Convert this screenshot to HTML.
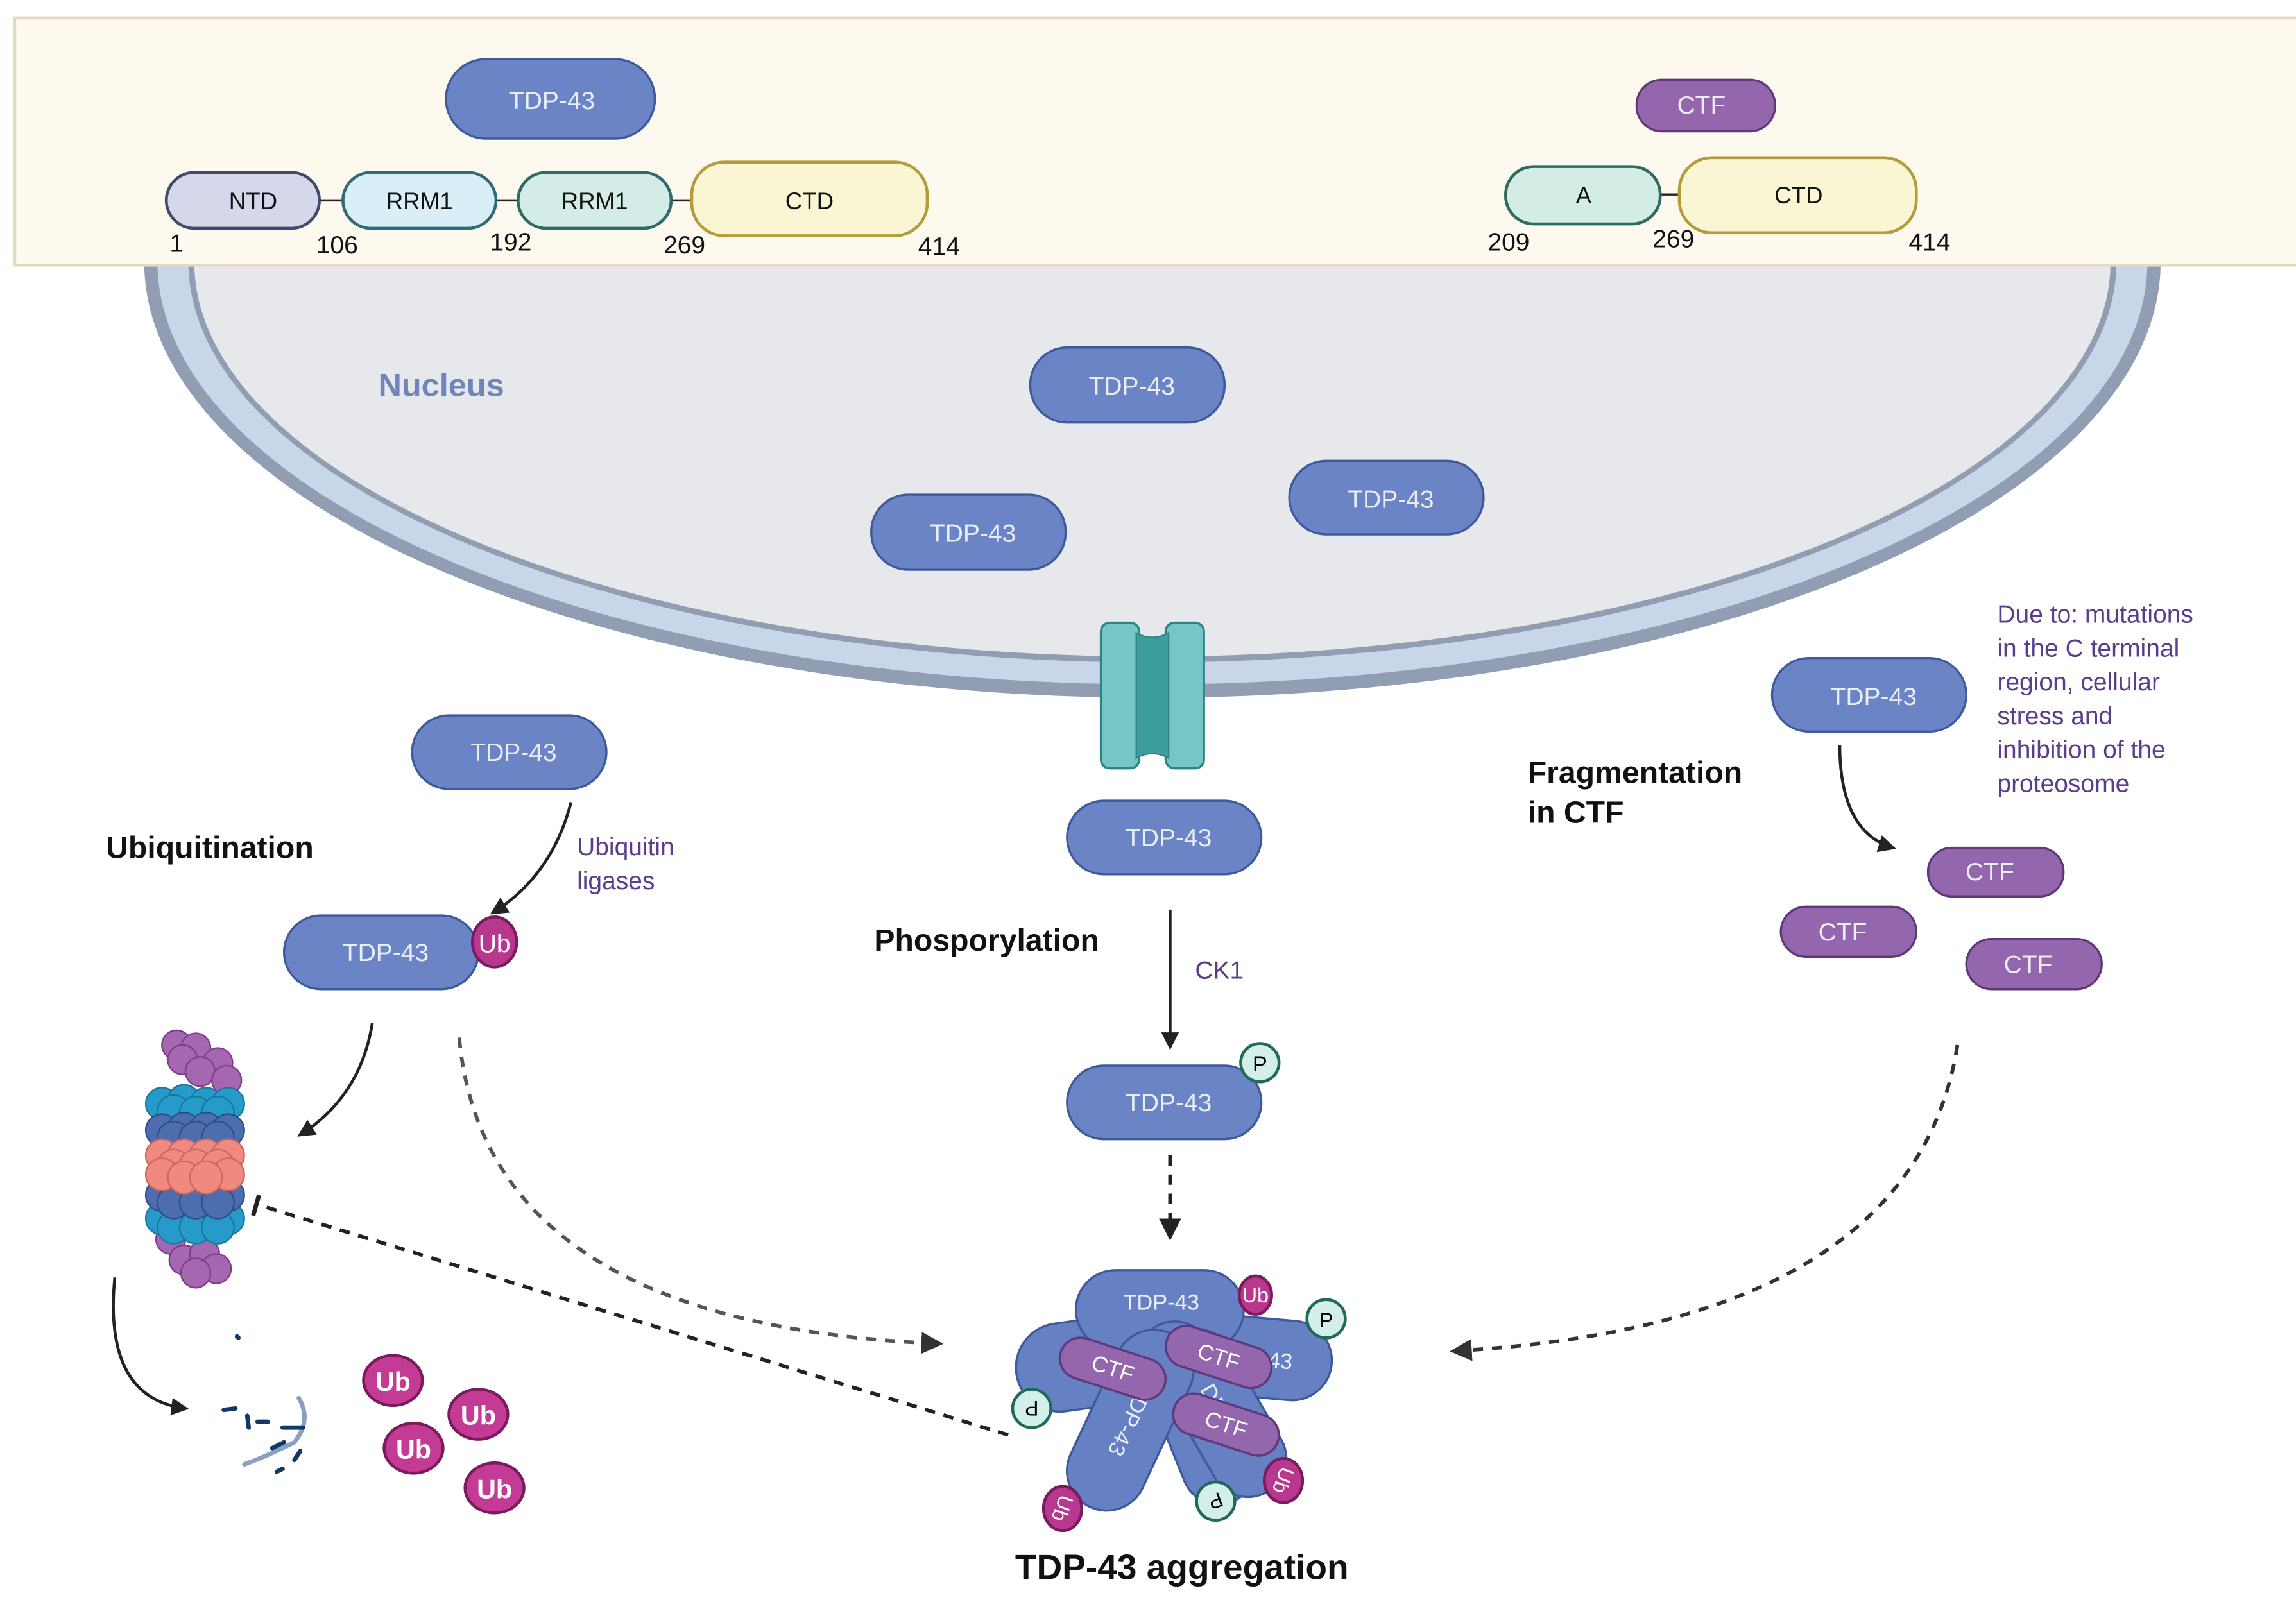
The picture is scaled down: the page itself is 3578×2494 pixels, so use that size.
<!DOCTYPE html>
<html><head><meta charset="utf-8"><style>html,body{margin:0;padding:0;background:#fff}svg{display:block}</style></head><body>
<svg width="3578" height="2494" viewBox="0 0 1560 1087" xmlns="http://www.w3.org/2000/svg" font-family="Liberation Sans, sans-serif">
<defs>
<marker id="ah" viewBox="0 0 10 10" refX="8" refY="5" markerWidth="6" markerHeight="6" orient="auto"><path d="M0,0L10,5L0,10z" fill="#222"/></marker>
<marker id="ahg" viewBox="0 0 10 10" refX="8" refY="5" markerWidth="6" markerHeight="6" orient="auto"><path d="M0,0L10,5L0,10z" fill="#333"/></marker>
</defs>
<rect width="1560" height="1087" fill="#fff"/>
<path d="M98,178 A685,296 0 0 0 1468,178 Z" fill="#909db3"/>
<path d="M107,178 A676,287 0 0 0 1459,178 Z" fill="#c9d6ea"/>
<path d="M128,178 A655,272 0 0 0 1438,178 Z" fill="#909db3"/>
<path d="M132,178 A651,268 0 0 0 1434,178 Z" fill="#e6e8ec"/>
<rect x="10" y="12" width="1552" height="168" fill="#fdf9ee" stroke="#e4dac0" stroke-width="2"/>
<g font-size="16" text-anchor="middle" fill="#111">
<line x1="217" y1="136" x2="470" y2="136" stroke="#222" stroke-width="1.5"/>
<rect x="113" y="117" width="104" height="38" rx="19" fill="#d4d8ea" stroke="#3f4a6c" stroke-width="2"/><text x="172" y="142">NTD</text>
<rect x="233" y="117" width="104" height="38" rx="19" fill="#d9eef6" stroke="#2f6a77" stroke-width="2"/><text x="285" y="142">RRM1</text>
<rect x="352" y="117" width="104" height="38" rx="19" fill="#d4ece8" stroke="#2f6a66" stroke-width="2"/><text x="404" y="142">RRM1</text>
<rect x="470" y="110" width="160" height="50" rx="22" fill="#faf5d2" stroke="#b59c3a" stroke-width="2"/><text x="550" y="142">CTD</text>
<text x="120" y="171" font-size="17">1</text><text x="229" y="172" font-size="17">106</text><text x="347" y="170" font-size="17">192</text><text x="465" y="172" font-size="17">269</text><text x="638" y="173" font-size="17">414</text>
<line x1="1128" y1="132" x2="1141" y2="132" stroke="#222" stroke-width="1.5"/>
<rect x="1023" y="113" width="105" height="39" rx="19" fill="#d3ece6" stroke="#2d6b5e" stroke-width="2"/><text x="1076" y="138">A</text>
<rect x="1141" y="107" width="161" height="51" rx="22" fill="#faf5d2" stroke="#b59c3a" stroke-width="2"/><text x="1222" y="138">CTD</text>
<text x="1025" y="170" font-size="17">209</text><text x="1137" y="168" font-size="17">269</text><text x="1311" y="170" font-size="17">414</text>
</g>
<g font-size="17" text-anchor="middle" fill="#e9eefa">
<g stroke="#3e5a9c" stroke-width="1.5" fill="#6a84c6">
<rect x="303" y="40" width="142" height="54" rx="27"/>
<rect x="700" y="236" width="132" height="51" rx="25"/>
<rect x="876" y="313" width="132" height="50" rx="25"/>
<rect x="592" y="336" width="132" height="51" rx="25"/>
<rect x="280" y="486" width="132" height="50" rx="25"/>
<rect x="725" y="544" width="132" height="50" rx="25"/>
<rect x="1204" y="447" width="132" height="50" rx="25"/>
<rect x="193" y="622" width="132" height="50" rx="25"/>
<rect x="725" y="724" width="132" height="50" rx="25"/>
</g>
<text x="375" y="74">TDP-43</text><text x="769" y="268">TDP-43</text><text x="945" y="345">TDP-43</text><text x="661" y="368">TDP-43</text><text x="349" y="517">TDP-43</text><text x="794" y="575">TDP-43</text><text x="1273" y="479">TDP-43</text><text x="262" y="653">TDP-43</text><text x="794" y="755">TDP-43</text>
<g stroke="#5e3877" stroke-width="1.5" fill="#9466ae">
<rect x="1112" y="54" width="94" height="35" rx="17"/>
<rect x="1310" y="576" width="92" height="33" rx="16"/>
<rect x="1210" y="616" width="92" height="34" rx="17"/>
<rect x="1336" y="638" width="92" height="34" rx="17"/>
</g>
<text x="1156" y="77">CTF</text><text x="1352" y="598">CTF</text><text x="1252" y="639">CTF</text><text x="1378" y="661">CTF</text>
</g>
<ellipse cx="336" cy="640" rx="15" ry="17" fill="#b8378f" stroke="#7a1b5c" stroke-width="2"/><text x="336" y="647" font-size="17" fill="#fff" text-anchor="middle">Ub</text>
<circle cx="856" cy="722" r="13" fill="#d4efe9" stroke="#1f6a58" stroke-width="2"/><text x="856" y="728" font-size="15" text-anchor="middle">P</text>
<rect x="748" y="423" width="26" height="99" rx="6" fill="#74c7c6" stroke="#2d8482" stroke-width="1.5"/>
<rect x="792" y="423" width="26" height="99" rx="6" fill="#74c7c6" stroke="#2d8482" stroke-width="1.5"/>
<path d="M772,430 Q783,436 794,430 L794,515 Q783,509 772,515Z" fill="#3c9e9a" stroke="#2d8482"/>
<text x="257" y="269" font-size="22" font-weight="bold" fill="#6f86ba">Nucleus</text>
<g font-weight="bold" font-size="21" fill="#111">
<text x="72" y="583">Ubiquitination</text>
<text x="594" y="646">Phosporylation</text>
<text x="1038" y="532">Fragmentation</text><text x="1038" y="559">in CTF</text>
<text x="803" y="1073" font-size="24" text-anchor="middle">TDP-43 aggregation</text>
</g>
<g font-size="17" fill="#5b3d8c">
<text x="392" y="581">Ubiquitin</text><text x="392" y="604">ligases</text>
<text x="812" y="665">CK1</text>
<text x="1357" y="423">Due to: mutations</text><text x="1357" y="446">in the C terminal</text><text x="1357" y="469">region, cellular</text><text x="1357" y="492">stress and</text><text x="1357" y="515">inhibition of the</text><text x="1357" y="538">proteosome</text>
</g>
<g fill="none" stroke="#222" stroke-width="2">
<path d="M388,545 Q375,595 335,620" marker-end="url(#ah)"/>
<path d="M253,695 Q245,745 204,771" marker-end="url(#ah)"/>
<path d="M78,868 Q70,950 126,957" marker-end="url(#ah)"/>
<path d="M795,618 L795,711" marker-end="url(#ah)"/>
<path d="M1250,506 Q1250,565 1286,576" marker-end="url(#ah)"/>
<path d="M795,785 L795,840" stroke-dasharray="7,6" stroke-width="2.5" marker-end="url(#ah)"/>
<path d="M1330,710 Q1300,900 988,918" stroke="#333" stroke-dasharray="7,6" stroke-width="2.5" marker-end="url(#ahg)"/>
<path d="M312,705 Q330,900 638,913" stroke="#555" stroke-dasharray="7,6" stroke-width="2.5" marker-end="url(#ahg)"/>
<path d="M685,975 L180,820" stroke-dasharray="7,6" stroke-width="2.5"/>
<path d="M176,812 L172,826" stroke-width="3"/>
</g>
<g stroke-width="1">
<g fill="#a667b1" stroke="#7e3d8c"><circle cx="120" cy="710" r="10"/><circle cx="133" cy="712" r="10"/><circle cx="124" cy="720" r="10"/><circle cx="148" cy="722" r="10"/><circle cx="136" cy="728" r="10"/><circle cx="154" cy="734" r="10"/>
<circle cx="116" cy="842" r="10"/><circle cx="125" cy="856" r="10"/><circle cx="139" cy="852" r="10"/><circle cx="147" cy="862" r="10"/><circle cx="133" cy="865" r="10"/></g>
<g fill="#269ac8" stroke="#17789e"><circle cx="110" cy="750" r="11"/><circle cx="125" cy="748" r="11"/><circle cx="140" cy="750" r="11"/><circle cx="155" cy="750" r="11"/><circle cx="118" cy="755" r="11"/><circle cx="133" cy="756" r="11"/><circle cx="148" cy="756" r="11"/>
<circle cx="110" cy="828" r="11"/><circle cx="125" cy="828" r="11"/><circle cx="140" cy="828" r="11"/><circle cx="155" cy="828" r="11"/><circle cx="118" cy="834" r="11"/><circle cx="133" cy="834" r="11"/><circle cx="148" cy="834" r="11"/></g>
<g fill="#4d6eae" stroke="#2f4c85"><circle cx="110" cy="768" r="11"/><circle cx="125" cy="767" r="11"/><circle cx="140" cy="767" r="11"/><circle cx="155" cy="768" r="11"/><circle cx="118" cy="773" r="11"/><circle cx="133" cy="773" r="11"/><circle cx="148" cy="773" r="11"/>
<circle cx="110" cy="812" r="11"/><circle cx="125" cy="812" r="11"/><circle cx="140" cy="812" r="11"/><circle cx="155" cy="812" r="11"/><circle cx="118" cy="817" r="11"/><circle cx="133" cy="817" r="11"/><circle cx="148" cy="817" r="11"/></g>
<g fill="#ee8a80" stroke="#cf645a"><circle cx="110" cy="785" r="11"/><circle cx="125" cy="785" r="11"/><circle cx="140" cy="785" r="11"/><circle cx="155" cy="785" r="11"/><circle cx="118" cy="792" r="11"/><circle cx="133" cy="792" r="11"/><circle cx="148" cy="792" r="11"/><circle cx="110" cy="798" r="11"/><circle cx="155" cy="798" r="11"/><circle cx="125" cy="800" r="11"/><circle cx="140" cy="800" r="11"/></g>
</g>
<g stroke-linecap="round" fill="none">
<path d="M203,950 Q212,965 200,980 Q180,990 166,995" stroke="#8aa0c0" stroke-width="3"/>
<g stroke="#12386a" stroke-width="3"><path d="M152,958 L160,957"/><path d="M168,962 L169,970"/><path d="M192,970 L206,970"/><path d="M185,984 L193,980"/><path d="M200,992 L204,986"/><path d="M188,1000 L192,998"/><path d="M175,966 L182,966"/><path d="M161,908 L162,909"/></g>
</g>
<g font-size="18" font-weight="bold" fill="#fff" text-anchor="middle" stroke-width="2">
<ellipse cx="267" cy="938" rx="20" ry="17" fill="#c43b96" stroke="#7b1b5e"/><text x="267" y="945" stroke="none">Ub</text>
<ellipse cx="325" cy="961" rx="20" ry="17" fill="#c43b96" stroke="#7b1b5e"/><text x="325" y="968" stroke="none">Ub</text>
<ellipse cx="281" cy="984" rx="20" ry="17" fill="#c43b96" stroke="#7b1b5e"/><text x="281" y="991" stroke="none">Ub</text>
<ellipse cx="336" cy="1011" rx="20" ry="17" fill="#c43b96" stroke="#7b1b5e"/><text x="336" y="1018" stroke="none">Ub</text>
</g>
<g stroke="#3e5a9c" stroke-width="1.5" fill="#6581c3" font-size="15" text-anchor="middle">
<g transform="translate(750,925) rotate(-8)"><rect x="-60" y="-30" width="120" height="60" rx="30"/></g>
<g transform="translate(850,922) rotate(5)"><rect x="-55" y="-27" width="110" height="54" rx="27"/><text x="20" y="6" fill="#e9eefa" stroke="none">43</text></g>
<rect x="731" y="863" width="114" height="54" rx="27"/>
<text x="789" y="890" fill="#e9eefa" stroke="none">TDP-43</text>
<g transform="translate(813,960) rotate(-22)"><rect x="-25" y="-65" width="50" height="130" rx="25"/></g>
<g transform="translate(830,960) rotate(-30)"><rect x="-26" y="-62" width="52" height="124" rx="26"/><text x="0" y="5" fill="#e9eefa" stroke="none" transform="rotate(90)">DP-43</text></g>
<g transform="translate(768,965) rotate(25)"><rect x="-27" y="-65" width="54" height="130" rx="27"/><text x="0" y="5" fill="#e9eefa" stroke="none" transform="rotate(90)">TDP-43</text></g>
<g fill="#9466ae" stroke="#5e3877"><g transform="translate(756,930) rotate(18)"><rect x="-37" y="-14" width="74" height="28" rx="14"/><text x="0" y="5" fill="#fff" stroke="none">CTF</text></g>
<g transform="translate(828,922) rotate(18)"><rect x="-37" y="-14" width="74" height="28" rx="14"/><text x="0" y="5" fill="#fff" stroke="none">CTF</text></g>
<g transform="translate(833,968) rotate(18)"><rect x="-37" y="-14" width="74" height="28" rx="14"/><text x="0" y="5" fill="#fff" stroke="none">CTF</text></g></g>
</g>
<g font-size="14" text-anchor="middle" stroke-width="2">
<ellipse cx="853" cy="880" rx="11" ry="13" fill="#b8378f" stroke="#7a1b5c"/><text x="853" y="885" fill="#fff" stroke="none">Ub</text>
<circle cx="901" cy="896" r="13" fill="#d4efe9" stroke="#1f6a58"/><text x="901" y="902" stroke="none">P</text>
<circle cx="701" cy="957" r="13" fill="#d4efe9" stroke="#1f6a58"/><text x="701" y="962" stroke="none" transform="rotate(180 701 957)">P</text>
<circle cx="826" cy="1020" r="13" fill="#d4efe9" stroke="#1f6a58"/><text x="826" y="1025" stroke="none" transform="rotate(160 826 1020)">P</text>
<ellipse cx="872" cy="1006" rx="13" ry="15" fill="#b8378f" stroke="#7a1b5c"/><text x="872" y="1011" fill="#fff" stroke="none" transform="rotate(110 872 1006)">Ub</text>
<ellipse cx="722" cy="1025" rx="13" ry="15" fill="#b8378f" stroke="#7a1b5c"/><text x="722" y="1030" fill="#fff" stroke="none" transform="rotate(110 722 1025)">Ub</text>
</g>
</svg>
</body></html>
